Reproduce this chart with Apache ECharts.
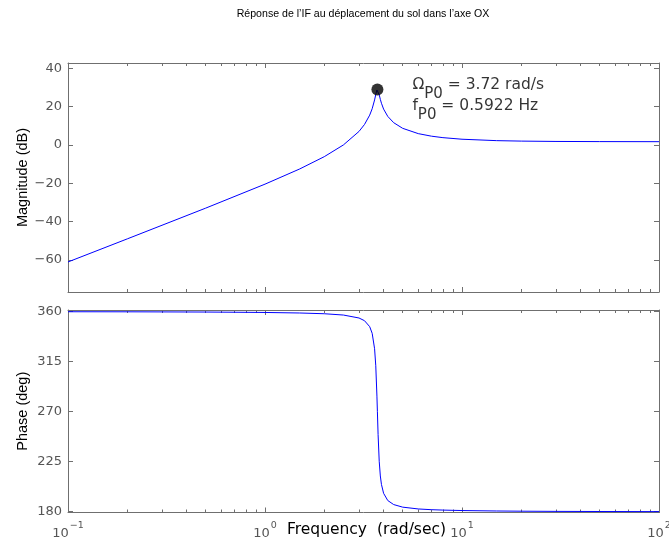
<!DOCTYPE html>
<html><head><meta charset="utf-8">
<script src="https://cdn.jsdelivr.net/npm/echarts@6/dist/echarts.min.js"></script>
<style>html,body{margin:0;padding:0;background:#fff}#c{width:669px;height:544px}</style>
</head><body><div id="c"></div>
<script>
// ---- data ----
const freq = [0.1, 0.2, 0.5, 1, 1.5, 2, 2.5, 3, 3.2, 3.4, 3.5, 3.6, 3.65, 3.7, 3.72, 3.75, 3.8, 3.85, 3.9, 4, 4.2, 4.5, 5, 6, 7, 8, 10, 15, 20, 30, 50, 100];
const magnitudeDb = [-61.11, -49.05, -33.0, -20.47, -12.54, -6.12, 0.0, 7.05, 10.70, 15.57, 18.93, 23.51, 26.34, 28.68, 28.99, 28.50, 26.23, 23.81, 21.78, 18.72, 14.90, 11.63, 8.68, 5.91, 4.58, 3.81, 2.99, 2.25, 2.01, 1.83, 1.75, 1.71];
const phaseDeg = [359.93, 359.87, 359.66, 359.28, 358.81, 358.13, 356.97, 354.31, 351.87, 346.51, 340.50, 326.64, 311.33, 284.02, 270.0, 249.60, 225.43, 212.16, 204.56, 196.56, 190.07, 186.44, 184.12, 182.49, 181.83, 181.47, 181.07, 180.65, 180.48, 180.31, 180.19, 180.09];
const peakPoint = [3.72, 28.99];
const peakText = ['\u03A9', 'P0', ' = 3.72 rad/s', 'f', 'P0', ' = 0.5922 Hz'];
const magTicks = [-60, -40, -20, 0, 20, 40];
const phaseTicks = [180, 225, 270, 315, 360];
const minorFreqs = [0.2,0.3,0.4,0.5,0.6,0.7,0.8,0.9,2,3,4,5,6,7,8,9,20,30,40,50,60,70,80,90];
const titleText = 'Réponse de l\u2019IF au déplacement du sol dans l\u2019axe OX';
const magName = 'Magnitude (dB)';
const phaseName = 'Phase (deg)';
const freqName = 'Frequency  (rad/sec)';

// ---- chart ----
const FONT = '"Liberation Sans", Arial, Helvetica, sans-serif';
const WFONT = '"DejaVu Sans", "Liberation Sans", sans-serif';
const AX = '#6f6f6f';
const LBL = '#555';
const minus = v => String(v).replace('-', '\u2212');
const grids = [
  {left: 68, right: 10, top: 63, height: 229, outerBoundsMode: 'none', containLabel: false},
  {left: 68, right: 10, top: 310, height: 202.5, outerBoundsMode: 'none', containLabel: false}
];
const xAxes = [];
const minorPos = minorFreqs.map(f => Math.log10(f));
for (let g = 0; g < 2; g++) {
  ['bottom', 'top'].forEach(pos => {
    const isLabelAxis = (g === 1 && pos === 'bottom');
    xAxes.push({
      type: 'log', logBase: 10, min: 0.1, max: 100, gridIndex: g, position: pos,
      axisLine: {show: true, onZero: false, lineStyle: {color: AX, width: 1}},
      axisTick: {show: true, inside: true, length: 5, lineStyle: {color: AX}},
      splitLine: {show: false},
      axisLabel: isLabelAxis ? {
        show: true, margin: 7.5, color: LBL,
        formatter: v => '{b|10}{s|' + minus(Math.round(Math.log10(v))) + '}',
        rich: {
          b: {fontSize: 13, fontFamily: WFONT, color: LBL, lineHeight: 20, verticalAlign: 'middle', padding: [8, 0, 0, 0]},
          s: {fontSize: 9.5, fontFamily: WFONT, color: LBL, lineHeight: 20, verticalAlign: 'middle', padding: [0, 0, 9, 1]}
        }
      } : {show: false},
      name: isLabelAxis ? freqName : '',
      nameLocation: 'middle', nameGap: 9, nameMoveOverlap: false,
      nameTextStyle: {fontFamily: WFONT, fontSize: 15.5, color: '#000', padding: [0, 0, 0, 6]}
    });
    xAxes.push({
      type: 'value', min: -1, max: 2, gridIndex: g, position: pos,
      axisLine: {show: false, onZero: false},
      axisTick: {show: true, inside: true, length: 3, customValues: minorPos, lineStyle: {color: AX}},
      axisLabel: {show: false},
      splitLine: {show: false}
    });
  });
}
function yPair(g, min, max, ticks, name, fmt) {
  return ['left', 'right'].map(pos => ({
    type: 'value', gridIndex: g, position: pos, min: min, max: max,
    axisLine: {show: true, onZero: false, lineStyle: {color: AX, width: 1}},
    axisTick: {show: true, inside: true, length: 5, customValues: ticks, lineStyle: {color: AX}},
    axisLabel: {show: pos === 'left', customValues: ticks, margin: 6, fontFamily: WFONT, fontSize: 13, color: LBL, formatter: fmt},
    splitLine: {show: false},
    name: pos === 'left' ? name : '',
    nameLocation: 'middle', nameRotate: 90, nameGap: 38, nameMoveOverlap: false,
    nameTextStyle: {fontFamily: FONT, fontSize: 14.5, color: '#000'}
  }));
}
const yAxes = [].concat(
  yPair(0, -76.8, 42.8, magTicks, magName, v => minus(v)),
  yPair(1, 179.3, 361.5, phaseTicks, phaseName, v => String(v))
);
const option = {
  backgroundColor: '#fff',
  animation: false,
  title: {
    text: titleText, left: 358, top: 4, textAlign: 'center',
    textStyle: {fontFamily: FONT, fontSize: 10.6, fontWeight: 'normal', color: '#000'}
  },
  grid: grids,
  xAxis: xAxes,
  yAxis: yAxes,
  series: [
    {type: 'line', xAxisIndex: 0, yAxisIndex: 0, data: freq.map((f, i) => [f, magnitudeDb[i]]),
     showSymbol: false, symbol: 'none', lineStyle: {color: '#0000ff', width: 1}, smooth: false},
    {type: 'line', xAxisIndex: 4, yAxisIndex: 2, data: freq.map((f, i) => [f, phaseDeg[i]]),
     showSymbol: false, symbol: 'none', lineStyle: {color: '#0000ff', width: 1}, smooth: false},
    {type: 'scatter', xAxisIndex: 0, yAxisIndex: 0, data: [peakPoint], symbol: 'circle', symbolSize: 12,
     itemStyle: {color: '#000'}, z: 5,
     label: {
       show: true, position: 'right', distance: 29, offset: [0, 6],
       formatter: '{a|' + peakText[0] + '}{s|' + peakText[1] + '}{a|' + peakText[2] + '}\n{a|' + peakText[3] + '}{s|' + peakText[4] + '}{a|' + peakText[5] + '}',
       rich: {
         a: {fontFamily: WFONT, fontSize: 15.5, color: '#000', lineHeight: 21, verticalAlign: 'middle'},
         s: {fontFamily: WFONT, fontSize: 15, color: '#000', lineHeight: 21, verticalAlign: 'middle', padding: [18, 0, 0, 0]}
       }
     }}
  ]
};
const chart = echarts.init(document.getElementById('c'), null, {renderer: 'canvas'});
chart.setOption(option);
</script></body></html>
